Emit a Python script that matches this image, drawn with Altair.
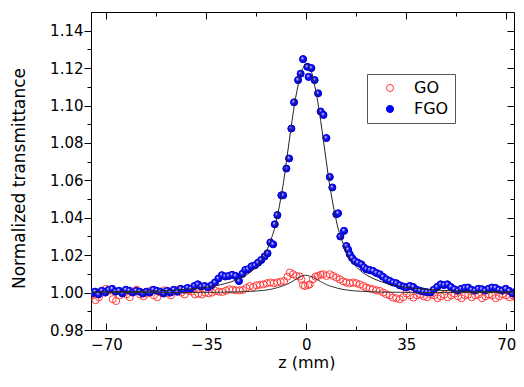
import altair as alt
import pandas as pd

# ---- FGO measured points (z in mm, normalized transmittance) ----
fgo_z = [-75.0, -74.0, -72.8, -71.6, -70.4, -69.2, -68.0, -66.8, -65.6, -64.4, -63.2, -62.0,
         -60.8, -59.6, -58.4, -57.2, -56.0, -54.8, -53.6, -52.4, -51.2, -50.0, -48.8, -47.6,
         -46.4, -45.2, -44.0, -42.8, -41.6, -40.4, -39.2, -38.0, -36.8, -35.6, -34.4, -33.2,
         -32.0, -30.8, -29.6, -28.4, -27.2, -26.0, -24.8, -23.6, -22.4, -21.4, -20.4, -19.2,
         -18.0, -16.9, -15.8, -14.6, -13.6, -12.6, -11.65, -11.06, -10.15, -8.75, -8.15, -7.0,
         -6.05, -5.25, -4.3, -2.9, -2.0, -1.15, 0.35, 0.8, 1.75, 2.9, 4.1, 5.0,
         6.0, 7.0, 8.2, 9.1, 10.5, 11.1, 11.9, 13.2, 14.0, 14.6, 15.2, 16.0,
         16.9, 18.0, 19.25, 20.1, 21.0, 22.2, 23.3, 24.5, 25.7, 26.8, 28.0, 29.2,
         30.3, 31.5, 32.7, 34.0, 35.0, 36.2, 37.4, 38.6, 39.8, 41.0, 42.2, 43.4,
         44.6, 45.8, 47.0, 48.2, 49.4, 50.6, 51.8, 53.0, 54.2, 55.4, 56.6, 57.8,
         59.0, 60.2, 61.4, 62.6, 63.8, 65.0, 66.2, 67.4, 68.6, 69.8, 71.0, 72.2,
         73.4, 74.5]
fgo_t = [0.9995, 1.0005, 0.9990, 1.0010, 1.0000, 1.0015, 1.0020, 1.0005, 1.0010, 0.9995, 1.0015, 1.0010,
         1.0000, 1.0010, 1.0005, 0.9995, 1.0005, 1.0000, 1.0015, 1.0010, 1.0005, 0.9995, 1.0010, 1.0000,
         1.0015, 1.0005, 1.0020, 1.0015, 1.0025, 1.0020, 1.0035, 1.0044, 1.0032, 1.0035, 1.0027, 1.0039,
         1.0054, 1.0075, 1.0093, 1.0086, 1.0089, 1.0095, 1.0089, 1.0062, 1.0100, 1.0121, 1.0125, 1.0140,
         1.0146, 1.0160, 1.0174, 1.0193, 1.0210, 1.0268, 1.0258, 1.0365, 1.0414, 1.0520, 1.0520, 1.0663,
         1.0717, 1.0877, 1.1017, 1.1136, 1.1170, 1.1248, 1.1207, 1.1153, 1.1200, 1.1136, 1.1065, 1.0968,
         1.0950, 1.0826, 1.0618, 1.0562, 1.0419, 1.0424, 1.0300, 1.0330, 1.0249, 1.0230, 1.0205, 1.0185,
         1.0169, 1.0160, 1.0151, 1.0135, 1.0125, 1.0120, 1.0116, 1.0105, 1.0098, 1.0085, 1.0071, 1.0062,
         1.0054, 1.0050, 1.0039, 1.0032, 1.0027, 1.0035, 1.0030, 1.0015, 1.0010, 1.0005, 1.0002, 1.0000,
         1.0015, 1.0030, 1.0044, 1.0040, 1.0044, 1.0030, 1.0018, 1.0010, 1.0020, 1.0025, 1.0027, 1.0015,
         1.0010, 1.0020, 1.0018, 1.0010, 1.0020, 1.0027, 1.0025, 1.0015, 1.0010, 1.0020, 1.0009, 0.9995,
         1.0005, 0.9990]

# ---- GO measured points ----
go_z = [-75.0, -73.8, -72.6, -71.4, -70.2, -69.0, -67.8, -66.6, -65.4, -64.2, -63.0, -61.8,
        -60.6, -59.4, -58.2, -57.0, -55.8, -54.6, -53.4, -52.2, -51.0, -49.8, -48.6, -47.4,
        -46.2, -45.0, -43.8, -42.6, -41.4, -40.2, -39.0, -37.8, -36.6, -35.4, -34.2, -33.0,
        -31.8, -30.6, -29.4, -28.2, -27.0, -25.8, -24.6, -23.4, -22.2, -21.0, -19.8, -18.6,
        -17.4, -16.2, -15.0, -13.8, -12.6, -11.4, -10.2, -9.0, -7.8, -6.6, -5.8, -4.65,
        -3.5, -2.3, -1.75, -1.15, -0.5, 0.6, 1.2, 2.3, 3.2, 4.1, 5.0, 5.85,
        7.0, 8.2, 9.35, 10.5, 11.7, 12.9, 14.0, 15.2, 16.3, 17.5, 18.7, 19.9,
        21.0, 22.2, 23.3, 24.5, 25.7, 26.9, 28.0, 29.2, 30.3, 31.5, 32.7, 33.9,
        35.1, 36.3, 37.5, 38.7, 39.9, 41.1, 42.3, 43.5, 44.7, 45.9, 47.1, 48.3,
        49.5, 50.7, 51.9, 53.1, 54.3, 55.5, 56.7, 57.9, 59.1, 60.3, 61.5, 62.7,
        63.9, 65.1, 66.3, 67.5, 68.7, 69.9, 71.1, 72.3, 73.5, 74.7]
go_t = [0.9985, 0.9960, 0.9975, 1.0000, 1.0020, 1.0010, 0.9965, 0.9955, 0.9985, 1.0000, 0.9990, 0.9975,
        1.0005, 1.0015, 0.9990, 0.9980, 0.9995, 1.0010, 0.9985, 0.9975, 1.0000, 1.0012, 0.9995, 0.9985,
        1.0005, 1.0015, 1.0000, 0.9990, 1.0010, 1.0005, 0.9990, 0.9995, 0.9990, 1.0000, 0.9996, 1.0000,
        1.0009, 1.0005, 1.0003, 1.0010, 1.0018, 1.0015, 1.0012, 1.0012, 1.0014, 1.0025, 1.0035, 1.0030,
        1.0039, 1.0042, 1.0044, 1.0050, 1.0054, 1.0050, 1.0054, 1.0058, 1.0062, 1.0085, 1.0107, 1.0098,
        1.0089, 1.0086, 1.0071, 1.0040, 1.0035, 1.0040, 1.0044, 1.0071, 1.0085, 1.0089, 1.0095, 1.0098,
        1.0089, 1.0098, 1.0089, 1.0080, 1.0071, 1.0060, 1.0054, 1.0050, 1.0054, 1.0050, 1.0044, 1.0035,
        1.0027, 1.0022, 1.0018, 1.0012, 1.0009, 1.0000, 0.9991, 0.9985, 0.9973, 0.9970, 0.9964, 0.9975,
        0.9995, 0.9985, 0.9973, 0.9985, 0.9990, 0.9980, 0.9975, 0.9990, 0.9985, 0.9970, 0.9980, 0.9990,
        0.9975, 0.9985, 0.9995, 0.9980, 0.9970, 0.9985, 0.9990, 0.9975, 0.9985, 0.9990, 0.9970, 0.9980,
        0.9990, 0.9985, 0.9970, 0.9980, 0.9992, 0.9985, 0.9975, 0.9985, 0.9970, 0.9965]

# ---- fitted curves ----
fit_fgo_z = [-75, -60, -50, -40, -35, -30, -25, -20, -18, -16, -14, -12, -11, -10, -9, -8, -7, -6,
             -5, -4, -3, -2, -1, 0, 1, 2, 3, 4, 5, 6, 7, 8, 9, 10, 11, 12, 14, 16, 18, 20,
             25, 30, 35, 40, 50, 60, 75]
fit_fgo_t = [1.0003, 1.0006, 1.0010, 1.0020, 1.0028, 1.0042, 1.0065, 1.0105, 1.0130, 1.0165, 1.0220,
             1.0300, 1.0350, 1.0420, 1.0500, 1.0590, 1.0700, 1.0810, 1.0920, 1.1020, 1.1100, 1.1170,
             1.1205, 1.1220, 1.1205, 1.1170, 1.1100, 1.1020, 1.0920, 1.0810, 1.0700, 1.0590, 1.0500,
             1.0420, 1.0350, 1.0300, 1.0220, 1.0165, 1.0130, 1.0105, 1.0065, 1.0042, 1.0028, 1.0020,
             1.0010, 1.0006, 1.0003]
fit_go_z = [-75, -50, -30, -20, -15, -12, -10, -8, -6, -4, -2, -0.5, 1, 3, 5, 7, 9, 11, 14, 19, 29, 49, 75]
fit_go_t = [1.0000, 1.0000, 1.0002, 1.0006, 1.0012, 1.0019, 1.0027, 1.0037, 1.0050, 1.0068, 1.0085,
            1.0093, 1.0089, 1.0076, 1.0059, 1.0043, 1.0032, 1.0023, 1.0014, 1.0007, 1.0002, 1.0000, 1.0000]

series_names = ["FGO", "GO"]
x_major = [-70, -35, 0, 35, 70]
x_minor = [-52.5, -17.5, 17.5, 52.5]
y_major = [0.98, 1.00, 1.02, 1.04, 1.06, 1.08, 1.10, 1.12, 1.14]
y_minor = [0.99, 1.01, 1.03, 1.05, 1.07, 1.09, 1.11, 1.13]

pts = pd.concat([
    pd.DataFrame({"z": fgo_z, "T": fgo_t, "series": series_names[0]}),
    pd.DataFrame({"z": go_z, "T": go_t, "series": series_names[1]}),
], ignore_index=True)
fgo_df = pd.DataFrame({"z": fgo_z, "T": fgo_t})
fit_fgo = pd.DataFrame({"z": fit_fgo_z, "T": fit_fgo_t})
fit_go = pd.DataFrame({"z": fit_go_z, "T": fit_go_t})

FONT = "DejaVu Sans"
xscale = alt.Scale(domain=[-75.4, 72.7], nice=False, zero=False)
yscale = alt.Scale(domain=[0.98, 1.15], nice=False, zero=False)

def ax(orient, values, size, offset):
    return alt.Axis(orient=orient, values=values, tickSize=size, offset=offset, labels=False,
                    title=None, domain=False, grid=False, tickColor="black", tickWidth=1)

# Points layer (legend source): bottom major x axis, left major y axis
points = alt.Chart(pts).mark_point(size=50, strokeWidth=1, opacity=1, clip=True).encode(
    x=alt.X("z:Q", scale=xscale,
            axis=alt.Axis(orient="bottom", values=x_major, tickSize=7, offset=-7, domain=False,
                          labelPadding=7, format="d", title="z (mm)", titleFont=FONT,
                          titleFontSize=16, titleFontWeight="normal", titleX=215.3, titleY=44,
                          titleBaseline="alphabetic", titleAlign="center", grid=False,
                          tickColor="black", labelColor="black", labelFont=FONT, labelFontSize=15)),
    y=alt.Y("T:Q", scale=yscale,
            axis=alt.Axis(orient="left", values=y_major, tickSize=7, labelPadding=1, format=".2f",
                          domain=True, domainColor="black", title="Normalized transmittance",
                          titleFont=FONT, titleFontSize=17, titleFontWeight="normal",
                          titleAngle=-90, titleX=-72, titleY=166, titleAlign="center",
                          titleBaseline="middle", grid=False, tickColor="black",
                          labelColor="black", labelFont=FONT, labelFontSize=15)),
    stroke=alt.Stroke("series:N", scale=alt.Scale(domain=["GO", "FGO"], range=["#ff3b3b", "#0000ff"]),
                      legend=alt.Legend(title=None)),
    fill=alt.Fill("series:N", scale=alt.Scale(domain=["GO", "FGO"], range=["transparent", "#0000ff"]),
                  legend=alt.Legend(title=None)),
)

sphere = {
    "gradient": "radial",
    "x1": 0.38, "y1": 0.32, "r1": 0.0,
    "x2": 0.5, "y2": 0.5, "r2": 0.55,
    "stops": [
        {"offset": 0.0, "color": "#ffffff"},
        {"offset": 0.18, "color": "#9a9aff"},
        {"offset": 0.45, "color": "#1414ff"},
        {"offset": 1.0, "color": "#0000b4"},
    ],
}
spheres = alt.Chart(fgo_df).mark_point(size=50, filled=True, fill=sphere, strokeWidth=0,
                                        opacity=1, clip=True).encode(
    x=alt.X("z:Q", scale=xscale, axis=ax("bottom", x_minor, 4, -4)),
    y=alt.Y("T:Q", scale=yscale, axis=ax("left", y_minor, 4, 0)),
)

line_go = alt.Chart(fit_go).mark_line(color="#333333", strokeWidth=1, interpolate="monotone",
                                      clip=True).encode(
    x=alt.X("z:Q", scale=xscale, axis=ax("top", x_major, 7, -7)),
    y=alt.Y("T:Q", scale=yscale, axis=ax("right", y_major, 7, -7)),
)
line_fgo = alt.Chart(fit_fgo).mark_line(color="#222222", strokeWidth=1, interpolate="monotone",
                                        clip=True).encode(
    x=alt.X("z:Q", scale=xscale, axis=ax("top", x_minor, 4, -4)),
    y=alt.Y("T:Q", scale=yscale, axis=ax("right", y_minor, 4, -4)),
)

chart = alt.layer(points, spheres, line_go, line_fgo).resolve_axis(
    x="independent", y="independent"
).properties(
    width=423, height=318,
    autosize=alt.AutoSizeParams(type="none"),
    padding={"left": 83, "top": 4, "right": 2, "bottom": 41},
).configure_view(
    stroke="black", strokeWidth=1
).configure_legend(
    orient="none", legendX=276, legendY=62, strokeColor="#555555", fillColor="white",
    padding=6, labelFont=FONT, labelFontSize=16, labelColor="black", symbolSize=50,
    symbolStrokeWidth=1, symbolOffset=9, labelOffset=16, rowPadding=5, cornerRadius=0,
)

chart.save("out.html", embed_options={"renderer": "svg", "actions": False})
